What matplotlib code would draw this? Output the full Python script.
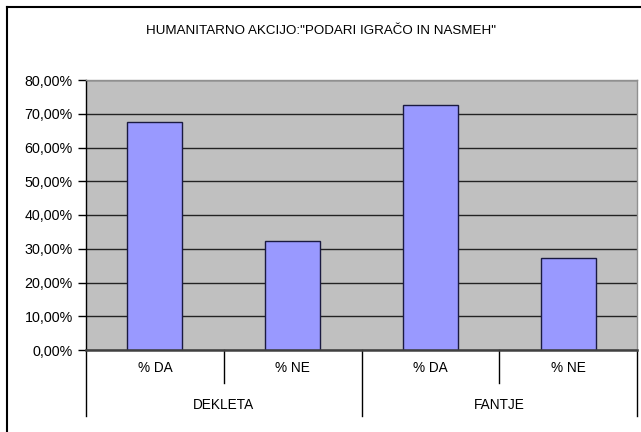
import matplotlib
matplotlib.use("Agg")
import matplotlib.pyplot as plt
from matplotlib.lines import Line2D
from matplotlib.ticker import FuncFormatter

plt.rcParams['font.family'] = ['Liberation Sans', 'DejaVu Sans']

title = 'HUMANITARNO AKCIJO:"PODARI IGRAČO IN NASMEH"'
groups = ["DEKLETA", "FANTJE"]
answers = ["% DA", "% NE", "% DA", "% NE"]
values = [67.6, 32.4, 72.6, 27.4]
yticks = [0, 10, 20, 30, 40, 50, 60, 70, 80]

W, H = 641, 432
fig = plt.figure(figsize=(W / 100, H / 100), dpi=100)
fig.patch.set_facecolor("white")

left, right, top, bottom = 86, 637, 80, 350
ax = fig.add_axes([left / W, (H - bottom) / H, (right - left) / W, (bottom - top) / H])
ax.set_facecolor("#C0C0C0")

x = list(range(len(values)))
ax.bar(x, values, width=0.4, color="#9999FF", edgecolor="#1a1a40", linewidth=1.0, zorder=3)

ax.set_xlim(-0.5, len(values) - 0.5)
ax.set_ylim(0, 80)
ax.set_yticks(yticks)
ax.yaxis.set_major_formatter(FuncFormatter(lambda v, p: f"{v:.2f}%".replace(".", ",")))
ax.tick_params(axis="y", length=6, width=1, color="black", pad=3.5, labelsize=10.3)
ax.set_xticks([])
ax.grid(axis="y", color="#222222", linewidth=1.0, zorder=1)

for s in ["top", "right"]:
    ax.spines[s].set_color("#909090")
    ax.spines[s].set_linewidth(1.0)
ax.spines["left"].set_color("black")
ax.spines["left"].set_linewidth(1.0)
ax.spines["bottom"].set_color("#404040")
ax.spines["bottom"].set_linewidth(1.8)
ax.spines["bottom"].set_zorder(4)

# two-level category axis: answers on the first row, groups on the second
trans = ax.get_xaxis_transform()
for xi, lab in zip(x, answers):
    ax.text(xi, -0.067, lab, transform=trans, ha="center", va="center", fontsize=9.8)
for gi, g in enumerate(groups):
    ax.text(gi * 2 + 0.5, -0.204, g, transform=trans, ha="center", va="center", fontsize=9.8)
for xb in [0.5, 2.5]:
    ax.add_line(Line2D([xb, xb], [0, -0.122], transform=trans, color="black",
                       linewidth=1.0, clip_on=False))
for xb in [-0.5, 1.5, 3.5]:
    ax.add_line(Line2D([xb, xb], [0, -0.244], transform=trans, color="black",
                       linewidth=1.0, clip_on=False))

fig.text(0.5, 1 - 31 / H, title, ha="center", va="center", fontsize=9.6)

# chart border
bx, by = 7 / W, 1 - 7 / H
fig.add_artist(Line2D([bx, bx], [0, by], transform=fig.transFigure, color="black", linewidth=1.5))
fig.add_artist(Line2D([bx, 1], [by, by], transform=fig.transFigure, color="black", linewidth=1.5))

fig.savefig("out.png", dpi=100)
